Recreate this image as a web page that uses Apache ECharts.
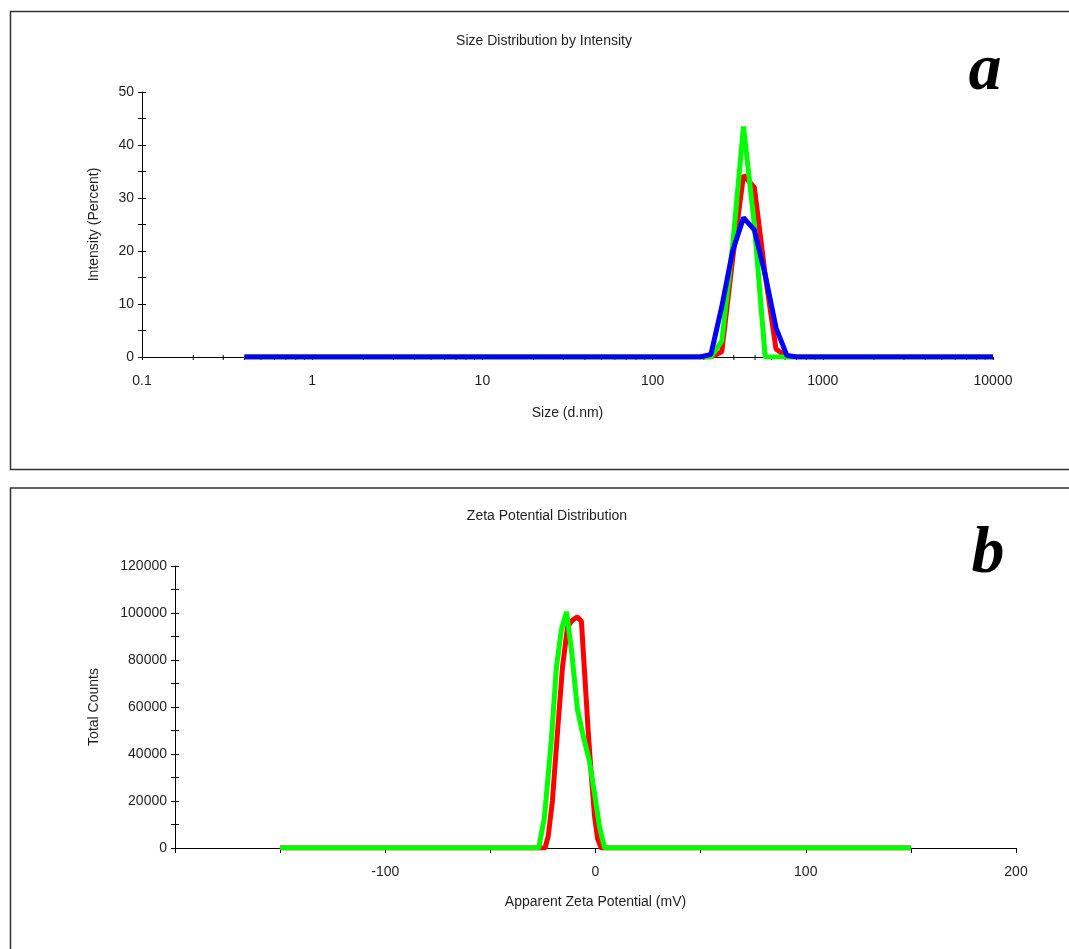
<!DOCTYPE html>
<html><head><meta charset="utf-8">
<script src="https://cdn.jsdelivr.net/npm/echarts@6/dist/echarts.min.js"></script>
<style>html,body{margin:0;padding:0;background:#fff}#c{width:1069px;height:949px}</style>
</head><body><div id="c"></div>
<script>
// ---------- Panel a: Size distribution by intensity ----------
const sizeNm = [
  0.4, 0.4632, 0.5365, 0.6213, 0.7195, 0.8332, 0.9649, 1.117, 1.294, 1.499,
  1.736, 2.01, 2.328, 2.696, 3.122, 3.615, 4.187, 4.849, 5.615, 6.503,
  7.531, 8.721, 10.1, 11.7, 13.54, 15.69, 18.17, 21.04, 24.36, 28.21,
  32.67, 37.84, 43.82, 50.75, 58.77, 68.06, 78.82, 91.28, 105.7, 122.4,
  141.8, 164.2, 190.1, 220.2, 255.0, 295.3, 342.0, 396.1, 458.7, 531.2,
  615.1, 712.4, 825.0, 955.4, 1106, 1281, 1484, 1718, 1990, 2305,
  2669, 3091, 3580, 4145, 4801, 5560, 6439, 7456, 8635, 10000
];
const intensityRed = [
  0,0,0,0,0,0,0,0,0,0,
  0,0,0,0,0,0,0,0,0,0,
  0,0,0,0,0,0,0,0,0,0,
  0,0,0,0,0,0,0,0,0,0,
  0,0,0,0,1,18.5,34.3,32,15.5,1.5,
  0,0,0,0,0,0,0,0,0,0,
  0,0,0,0,0,0,0,0,0,0
];
const intensityGreen = [
  0,0,0,0,0,0,0,0,0,0,
  0,0,0,0,0,0,0,0,0,0,
  0,0,0,0,0,0,0,0,0,0,
  0,0,0,0,0,0,0,0,0,0,
  0,0,0,0,3,21,43.5,25,0,0,
  0,0,0,0,0,0,0,0,0,0,
  0,0,0,0,0,0,0,0,0,0
];
const intensityBlue = [
  0,0,0,0,0,0,0,0,0,0,
  0,0,0,0,0,0,0,0,0,0,
  0,0,0,0,0,0,0,0,0,0,
  0,0,0,0,0,0,0,0,0,0,
  0,0,0,0.5,9.5,20,26.3,24,15.5,5.5,
  0.3,0,0,0,0,0,0,0,0,0,
  0,0,0,0,0,0,0,0,0,0
];
const sizeMinorMultipliers = [2,3,4,5,6,7,8,9];
const sizeDecades = [0.1, 1, 10, 100, 1000];

// ---------- Panel b: Zeta potential distribution ----------
const zetaRedMv     = [-150, -24, -22.5, -20.5, -18.1, -15.7, -13.3, -11, -8.6, -6.7, -5, -3.5, -2, -0.5, 1, 2.7, 150];
const zetaRedCounts = [0, 0, 5000, 20000, 49000, 77000, 94000, 97000, 98300, 96500, 72000, 50000, 31000, 14000, 4000, 0, 0];
const zetaGreenMv     = [-150, -27, -24.3, -21, -18.6, -16.2, -13.8, -11.4, -8.6, -6.2, -2.9, -0.5, 1.9, 4.3, 150];
const zetaGreenCounts = [0, 0, 13000, 46000, 77000, 93000, 100500, 84000, 59000, 49000, 37000, 23500, 9000, 0, 0];

const FONT = '"Liberation Sans", Arial, sans-serif';
const TXT = '#1e1e1e';
const AX = '#000';

const minorTickValues = [];
sizeDecades.forEach(d => sizeMinorMultipliers.forEach(m => minorTickValues.push(d * m)));

function yPair(grid, max, interval, labelEvery, name, nameGap) {
  const base = {
    type: 'value', gridIndex: grid, position: 'left', min: 0, max: max, interval: interval,
    splitLine: { show: false }
  };
  return [
    Object.assign({}, base, {
      name: name, nameLocation: 'middle', nameGap: nameGap, nameRotate: 90,
      nameTextStyle: { fontFamily: FONT, fontSize: 14, color: TXT },
      axisLine: { show: true, onZero: false, lineStyle: { color: AX, width: 1 } },
      axisTick: { show: true, inside: false, length: 4, lineStyle: { color: AX } },
      axisLabel: { show: true, margin: 8, fontFamily: FONT, fontSize: 14, color: TXT,
        formatter: v => (v % labelEvery === 0 ? String(v) : '') }
    }),
    Object.assign({}, base, {
      axisLine: { show: false, onZero: false },
      axisTick: { show: true, inside: true, length: 4, lineStyle: { color: AX } },
      axisLabel: { show: false }
    })
  ];
}

const yAxes = [].concat(
  yPair(0, 50, 5, 10, 'Intensity (Percent)', 41),
  yPair(1, 120000, 10000, 20000, 'Total Counts', 74)
);

const LETTER_FONT = 'italic bold 66px "Liberation Serif", "Times New Roman", serif';

const option = {
  backgroundColor: '#fff',
  animation: false,
  grid: [
    { left: 142, top: 92, width: 851, height: 265 },
    { left: 175, top: 566, width: 841, height: 282 }
  ],
  xAxis: [
    { type: 'log', gridIndex: 0, logBase: 10, min: 0.1, max: 10000, position: 'bottom',
      name: 'Size (d.nm)', nameLocation: 'middle', nameGap: 49,
      nameTextStyle: { fontFamily: FONT, fontSize: 14, color: TXT },
      splitLine: { show: false },
      axisLine: { show: true, onZero: false, lineStyle: { color: AX, width: 1 } },
      axisTick: { show: true, length: 3, lineStyle: { color: AX } },
      axisLabel: { margin: 17, fontFamily: FONT, fontSize: 14, color: TXT,
        formatter: v => String(Math.round(v * 10) / 10) } },
    { type: 'value', gridIndex: 1, min: -200, max: 200, interval: 50, position: 'bottom',
      name: 'Apparent Zeta Potential (mV)', nameLocation: 'middle', nameGap: 47,
      nameTextStyle: { fontFamily: FONT, fontSize: 14, color: TXT },
      splitLine: { show: false },
      axisLine: { show: true, onZero: false, lineStyle: { color: AX, width: 1 } },
      axisTick: { show: true, length: 5, lineStyle: { color: AX } },
      axisLabel: { margin: 17, fontFamily: FONT, fontSize: 14, color: TXT,
        formatter: v => (v % 100 === 0 && v > -200 ? String(v) : '') } }
  ],
  yAxis: yAxes,
  series: [
    { type: 'custom', xAxisIndex: 0, yAxisIndex: 0, silent: true, z: 1, clip: false,
      data: minorTickValues.map(v => [v, 0]),
      renderItem: (params, api) => {
        const p = api.coord([api.value(0), 0]);
        return { type: 'line', shape: { x1: p[0], y1: p[1] - 2, x2: p[0], y2: p[1] + 3 },
          style: { stroke: AX, lineWidth: 1 } };
      } },
    { type: 'line', xAxisIndex: 0, yAxisIndex: 0, z: 3, showSymbol: false, symbol: 'none',
      data: sizeNm.map((s, i) => [s, intensityRed[i]]),
      lineStyle: { color: '#ff0000', width: 5 } },
    { type: 'line', xAxisIndex: 0, yAxisIndex: 0, z: 4, showSymbol: false, symbol: 'none',
      data: sizeNm.map((s, i) => [s, intensityGreen[i]]),
      lineStyle: { color: '#00ff00', width: 5 } },
    { type: 'line', xAxisIndex: 0, yAxisIndex: 0, z: 5, showSymbol: false, symbol: 'none',
      data: sizeNm.map((s, i) => [s, intensityBlue[i]]),
      lineStyle: { color: '#0000ff', width: 5 } },
    { type: 'line', xAxisIndex: 1, yAxisIndex: 2, z: 3, showSymbol: false, symbol: 'none',
      data: zetaRedMv.map((m, i) => [m, zetaRedCounts[i]]),
      lineStyle: { color: '#ff0000', width: 5 } },
    { type: 'line', xAxisIndex: 1, yAxisIndex: 2, z: 4, showSymbol: false, symbol: 'none',
      data: zetaGreenMv.map((m, i) => [m, zetaGreenCounts[i]]),
      lineStyle: { color: '#00ff00', width: 5 } }
  ],
  graphic: [
    { type: 'rect', shape: { x: 10.5, y: 11.5, width: 1100, height: 458 },
      style: { fill: 'none', stroke: '#333', lineWidth: 1.5 }, silent: true, z: 0 },
    { type: 'rect', shape: { x: 10.5, y: 488, width: 1100, height: 600 },
      style: { fill: 'none', stroke: '#333', lineWidth: 1.5 }, silent: true, z: 0 },
    { type: 'text', x: 544, y: 41, silent: true,
      style: { text: 'Size Distribution by Intensity', font: '14px ' + FONT, fill: TXT,
        textAlign: 'center', textVerticalAlign: 'middle' } },
    { type: 'text', x: 547, y: 516, silent: true,
      style: { text: 'Zeta Potential Distribution', font: '14px ' + FONT, fill: TXT,
        textAlign: 'center', textVerticalAlign: 'middle' } },
    { type: 'text', x: 985, y: 105, silent: true,
      style: { text: 'a', font: LETTER_FONT, fill: '#000',
        textAlign: 'center', textVerticalAlign: 'bottom' } },
    { type: 'text', x: 988, y: 588, silent: true,
      style: { text: 'b', font: LETTER_FONT, fill: '#000',
        textAlign: 'center', textVerticalAlign: 'bottom' } }
  ]
};

const chart = echarts.init(document.getElementById('c'), null, { renderer: 'canvas' });
chart.setOption(option);
</script></body></html>
